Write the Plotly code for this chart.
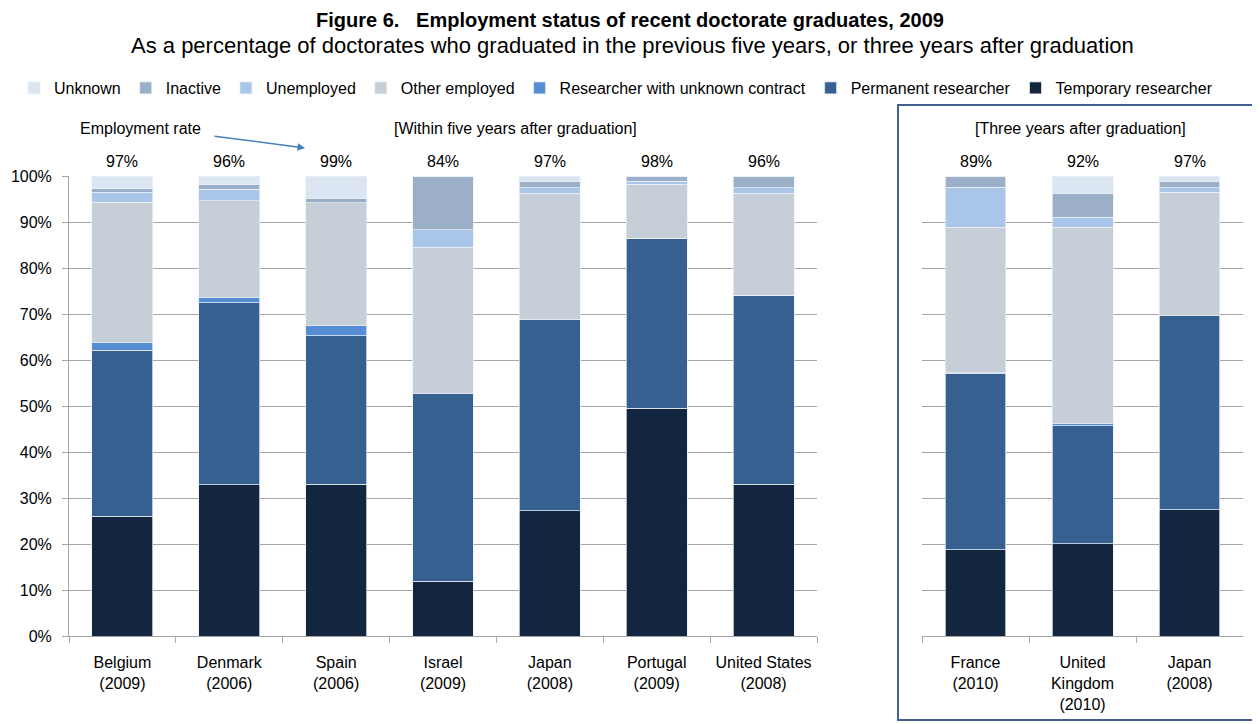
import plotly.graph_objects as go

# ---------------- data ----------------
left_categories = ["Belgium<br>(2009)", "Denmark<br>(2006)", "Spain<br>(2006)", "Israel<br>(2009)",
                   "Japan<br>(2008)", "Portugal<br>(2009)", "United States<br>(2008)"]
right_categories = ["France<br>(2010)", "United<br>Kingdom<br>(2010)", "Japan<br>(2008)"]

series_names = ["Temporary researcher", "Permanent researcher", "Researcher with unknown contract",
                "Other employed", "Unemployed", "Inactive", "Unknown"]
series_colors = ["#13263f", "#36608f", "#558ed5", "#c6ced8", "#a9c5ea", "#9bafc9", "#dce6f2"]

left_temporary = [26.0, 32.9, 33.0, 11.9, 27.2, 49.5, 33.0]
left_permanent = [36.1, 39.5, 32.3, 40.8, 41.5, 37.0, 41.1]
left_unknown_contract = [1.7, 1.1, 2.2, 0.0, 0.0, 0.0, 0.0]
left_other_employed = [30.5, 21.1, 26.7, 31.8, 27.5, 11.7, 22.1]
left_unemployed = [2.2, 2.5, 0.0, 3.8, 1.2, 0.7, 1.3]
left_inactive = [0.7, 1.0, 1.0, 11.7, 1.5, 1.1, 2.5]
left_unknown = [2.8, 1.9, 4.8, 0.0, 1.1, 0.0, 0.0]

right_temporary = [18.8, 20.1, 27.5]
right_permanent = [38.3, 25.6, 42.1]
right_unknown_contract = [0.2, 0.4, 0.0]
right_other_employed = [31.6, 42.8, 26.9]
right_unemployed = [8.7, 2.1, 1.0]
right_inactive = [2.4, 5.3, 1.4]
right_unknown = [0.0, 3.7, 1.1]

left_employment_rate = ["97%", "96%", "99%", "84%", "97%", "98%", "96%"]
right_employment_rate = ["89%", "92%", "97%"]

y_ticks = [0, 10, 20, 30, 40, 50, 60, 70, 80, 90, 100]
y_tick_labels = ["0%", "10%", "20%", "30%", "40%", "50%", "60%", "70%", "80%", "90%", "100%"]

# ---------------- figure ----------------
# the page body has an 8px margin, so the figure is drawn 8px in from the window edge
OFF = 8
W, H = 1260 - OFF, 724 - OFF
FONT = "Liberation Sans, Arial, sans-serif"
FS = 16

left_series = [left_temporary, left_permanent, left_unknown_contract, left_other_employed,
               left_unemployed, left_inactive, left_unknown]
right_series = [right_temporary, right_permanent, right_unknown_contract, right_other_employed,
                right_unemployed, right_inactive, right_unknown]

fig = go.Figure()
for name, color, vals in zip(series_names, series_colors, left_series):
    fig.add_trace(go.Bar(x=left_categories, y=vals, name=name, marker_color=color,
                         marker_line=dict(color="rgba(235,240,246,0.9)", width=0.8),
                         xaxis="x", yaxis="y", legendgroup=name, hoverinfo="skip"))
for name, color, vals in zip(series_names, series_colors, right_series):
    fig.add_trace(go.Bar(x=right_categories, y=vals, name=name, marker_color=color,
                         marker_line=dict(color="rgba(235,240,246,0.9)", width=0.8),
                         xaxis="x2", yaxis="y2", legendgroup=name, showlegend=False,
                         hoverinfo="skip"))

def px_x(p):
    return (p - OFF) / W

def px_y(p):
    return (H - (p - OFF)) / H

grid = "#a6a6a6"
ydom = [px_y(636), px_y(176)]

fig.update_layout(
    width=W, height=H,
    margin=dict(l=0, r=0, t=0, b=0, autoexpand=False),
    paper_bgcolor="white", plot_bgcolor="white",
    barmode="stack", bargap=0.43,
    font=dict(family=FONT, size=FS, color="black"),
    showlegend=True,
    legend=dict(orientation="h", traceorder="reversed", x=px_x(14), xanchor="left",
                y=px_y(88), yanchor="middle", font=dict(family=FONT, size=FS),
                itemwidth=30, bgcolor="rgba(0,0,0,0)"),
    xaxis=dict(domain=[px_x(69), px_x(817)], type="category", showline=True, linecolor=grid,
               ticks="outside", tickson="boundaries", ticklen=6, tickcolor=grid,
               tickfont=dict(family=FONT, size=FS), showgrid=False, anchor="y",
               tickangle=0, automargin=False, ticklabelstandoff=12),
    yaxis=dict(domain=ydom, range=[0, 100], tickmode="array", tickvals=y_ticks,
               ticktext=y_tick_labels,
               showgrid=True, gridcolor=grid, gridwidth=1, showline=True, linecolor=grid,
               ticks="outside", ticklen=6, tickcolor=grid, zeroline=False,
               tickfont=dict(family=FONT, size=FS), anchor="x", ticklabelstandoff=7,
               automargin=False),
    xaxis2=dict(domain=[px_x(922), px_x(1243)], type="category", showline=True, linecolor=grid,
                ticks="outside", tickson="boundaries", ticklen=6, tickcolor=grid,
                tickfont=dict(family=FONT, size=FS), showgrid=False, anchor="y2",
                tickangle=0, automargin=False, ticklabelstandoff=12),
    yaxis2=dict(domain=ydom, range=[0, 100], tickmode="array", tickvals=y_ticks,
                showticklabels=False,
                showgrid=True, gridcolor=grid, gridwidth=1, showline=False, ticks="",
                zeroline=False, anchor="x2", automargin=False),
    title=dict(text="<b>Figure 6.&nbsp;&nbsp; Employment status of recent doctorate graduates, 2009</b>",
               x=px_x(630), xanchor="center", y=px_y(20), yanchor="middle",
               font=dict(family=FONT, size=20, color="black"), automargin=False),
)

annotations = [
    dict(text="As a percentage of doctorates who graduated in the previous five years, or three years after graduation",
         x=px_x(632), y=px_y(45), xref="paper", yref="paper", showarrow=False,
         font=dict(family=FONT, size=22), xanchor="center", yanchor="middle"),
    dict(text="[Within five years after graduation]", x=px_x(515), y=px_y(128), xref="paper",
         yref="paper", showarrow=False, xanchor="center", yanchor="middle"),
    dict(text="[Three years after graduation]", x=px_x(1080), y=px_y(128), xref="paper",
         yref="paper", showarrow=False, xanchor="center", yanchor="middle"),
    dict(text="Employment rate", x=px_x(140), y=px_y(128), xref="paper", yref="paper",
         showarrow=False, xanchor="center", yanchor="middle"),
    dict(text="", x=px_x(305), y=px_y(148), xref="paper", yref="paper", showarrow=True,
         ax=-92, ay=-12, arrowhead=2, arrowsize=1, arrowwidth=1.5, arrowcolor="#4a7ebb"),
]
for i, lab in enumerate(left_employment_rate):
    annotations.append(dict(text=lab, x=i, y=px_y(161), xref="x", yref="paper",
                            showarrow=False, xanchor="center", yanchor="middle"))
for i, lab in enumerate(right_employment_rate):
    annotations.append(dict(text=lab, x=i, y=px_y(161), xref="x2", yref="paper",
                            showarrow=False, xanchor="center", yanchor="middle"))
fig.update_layout(annotations=annotations)

fig.add_shape(type="rect", xref="paper", yref="paper", x0=px_x(898), x1=px_x(1257),
              y0=px_y(720), y1=px_y(105), line=dict(color="#41608d", width=2),
              fillcolor="rgba(0,0,0,0)", layer="above")

fig.write_html("out.html")
